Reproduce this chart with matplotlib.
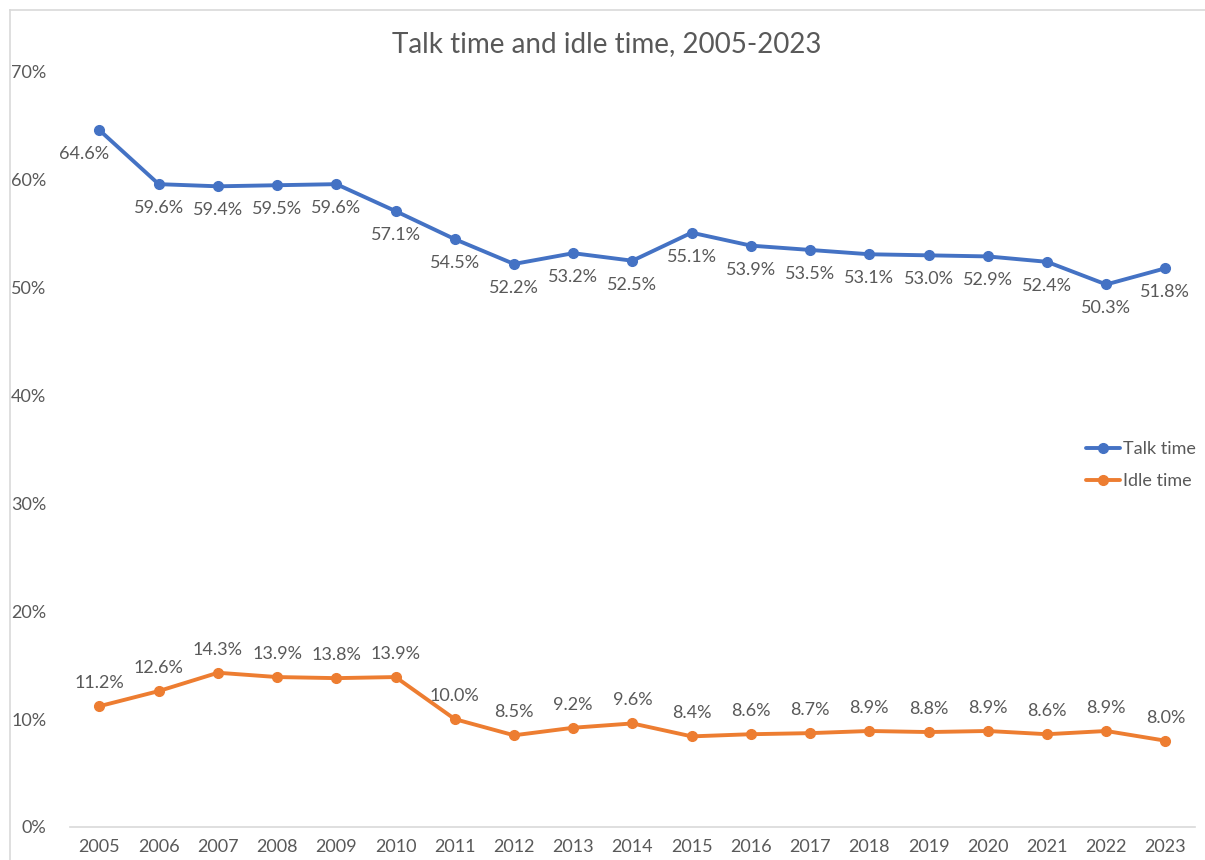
import matplotlib.pyplot as plt
from matplotlib.lines import Line2D
import numpy as np

plt.rcParams['font.family'] = ['Lato', 'DejaVu Sans']

years = [str(y) for y in range(2005, 2024)]
talk_time = [64.6, 59.6, 59.4, 59.5, 59.6, 57.1, 54.5, 52.2, 53.2, 52.5,
             55.1, 53.9, 53.5, 53.1, 53.0, 52.9, 52.4, 50.3, 51.8]
idle_time = [11.2, 12.6, 14.3, 13.9, 13.8, 13.9, 10.0, 8.5, 9.2, 9.6,
             8.4, 8.6, 8.7, 8.9, 8.8, 8.9, 8.6, 8.9, 8.0]

blue = '#4472C4'
orange = '#ED7D31'
text_gray = '#595959'

fig = plt.figure(figsize=(12.05, 8.6), dpi=100)
ax = fig.add_axes([0.058, 0.0384, 0.9337, 0.8779])

x = np.arange(len(years))
ax.plot(x, talk_time, color=blue, linewidth=2.8, marker='o', markersize=7,
        label='Talk time', solid_capstyle='round')
ax.plot(x, idle_time, color=orange, linewidth=2.8, marker='o', markersize=7,
        label='Idle time', solid_capstyle='round')

# data labels: talk below, idle above
for i, v in enumerate(talk_time):
    dx = -15 if i == 0 else 0
    ax.annotate(f'{v:.1f}%', (i, v), xytext=(dx, -24), textcoords='offset pixels',
                ha='center', va='center', fontsize=13, color=text_gray)
for i, v in enumerate(idle_time):
    ax.annotate(f'{v:.1f}%', (i, v), xytext=(0, 23), textcoords='offset pixels',
                ha='center', va='center', fontsize=13, color=text_gray)

ax.set_xlim(-0.5, len(years) - 0.5)
ax.set_ylim(0, 70)
ax.set_xticks(x, years)
ax.set_yticks(range(0, 71, 10), [f'{t}%' for t in range(0, 71, 10)])
ax.tick_params(axis='both', length=0, labelsize=13, colors=text_gray)
ax.tick_params(axis='x', pad=9)
ax.tick_params(axis='y', pad=17)
for s in ['top', 'right', 'left']:
    ax.spines[s].set_visible(False)
ax.spines['bottom'].set_color('#D9D9D9')
ax.spines['bottom'].set_linewidth(1.2)

# title centred on the whole chart area, not the plot area
fig.text(607 / 1205, 1 - 44 / 860, 'Talk time and idle time, 2005-2023', fontsize=20,
         color=text_gray, ha='center', va='center')

leg = ax.legend(loc='upper left', bbox_to_anchor=(1077 / 1205, 1 - 432 / 860),
                bbox_transform=fig.transFigure, frameon=False, fontsize=13,
                handlelength=1.9, handletextpad=0.15, labelspacing=0.9, borderpad=0)
for t in leg.get_texts():
    t.set_color(text_gray)

# chart area border (top and left visible)
fig.add_artist(Line2D([10 / 1205, 10 / 1205], [0, 1 - 10 / 860], color='#D9D9D9', linewidth=1.2,
                      transform=fig.transFigure))
fig.add_artist(Line2D([10 / 1205, 1], [1 - 10 / 860, 1 - 10 / 860], color='#D9D9D9', linewidth=1.2,
                      transform=fig.transFigure))

fig.savefig('out.png', dpi=100)
